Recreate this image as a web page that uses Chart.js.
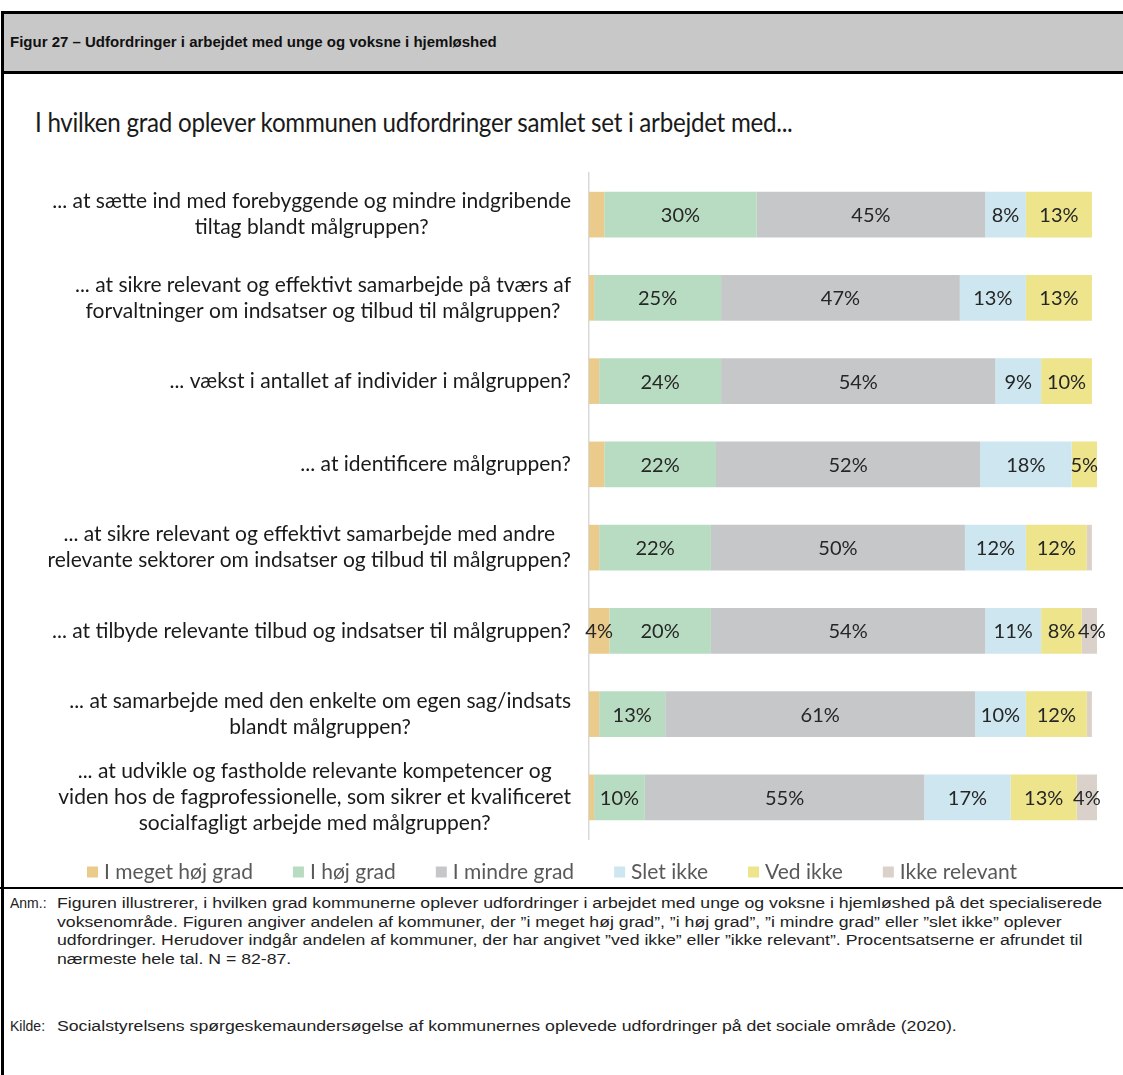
<!DOCTYPE html>
<html lang="da">
<head>
<meta charset="utf-8">
<title>Figur 27</title>
<script src="https://cdn.jsdelivr.net/npm/chart.js@4.4.1/dist/chart.umd.min.js"></script>
<style>
  body { margin: 0; width: 1123px; height: 1075px; background: #fff; overflow: hidden; position: relative; }
  .frame { position: absolute; left: 1px; top: 11px; width: 1140px; height: 1080px; border-left: 3px solid #000; border-top: 3px solid #000; }
  .header { position: absolute; left: 4px; top: 14px; width: 1130px; height: 57px; background: #c8c8c8; border-bottom: 3px solid #000; }
  .header span { position: absolute; left: 6px; top: 19px; font: bold 15px "Liberation Sans", Arial, sans-serif; color: #111; white-space: nowrap; }
  .subtitle { position: absolute; left: 35px; top: 106px; font: 26px Lato, sans-serif; color: #1a1a1a; white-space: nowrap; transform: scaleX(0.93); transform-origin: left center; letter-spacing: -0.3px; }
  #chart { position: absolute; left: 0; top: 150px; }
  .sep { position: absolute; left: 0; top: 887px; width: 1123px; height: 2px; background: #000; }
  .note { position: absolute; font: 15.5px "Liberation Sans", Arial, sans-serif; color: #222; line-height: 18.5px; white-space: nowrap; transform: scaleX(1.14); transform-origin: left top; }
  .lead { position: absolute; font: 14px "Liberation Sans", Arial, sans-serif; color: #222; line-height: 18.5px; white-space: nowrap; }
</style>
</head>
<body>
<div class="frame"></div>
<div class="header"><span>Figur 27 – Udfordringer i arbejdet med unge og voksne i hjemløshed</span></div>
<div class="subtitle">I hvilken grad oplever kommunen udfordringer samlet set i arbejdet med...</div>
<canvas id="chart" width="1123" height="740"></canvas>
<div class="sep"></div>
<div class="lead" style="left:10px; top:894px;">Anm.:</div>
<div class="note" style="left:57px; top:894px;">
Figuren illustrerer, i hvilken grad kommunerne oplever udfordringer i arbejdet med unge og voksne i hjemløshed på det specialiserede<br>
voksenområde. Figuren angiver andelen af kommuner, der ”i meget høj grad”, ”i høj grad”, ”i mindre grad” eller ”slet ikke” oplever<br>
udfordringer. Herudover indgår andelen af kommuner, der har angivet ”ved ikke” eller ”ikke relevant”. Procentsatserne er afrundet til<br>
nærmeste hele tal. N = 82-87.
</div>
<div class="lead" style="left:10px; top:1017px;">Kilde:</div>
<div class="note" style="left:57px; top:1017px;">Socialstyrelsens spørgeskemaundersøgelse af kommunernes oplevede udfordringer på det sociale område (2020).</div>

<script>
const categories = [
    ["... at sætte ind med forebyggende og mindre indgribende", "tiltag blandt målgruppen?"],
    ["... at sikre relevant og effektivt samarbejde på tværs af", "forvaltninger om indsatser og tilbud til målgruppen?"],
    ["... vækst i antallet af individer i målgruppen?"],
    ["... at identificere målgruppen?"],
    ["... at sikre relevant og effektivt samarbejde med andre", "relevante sektorer om indsatser og tilbud til målgruppen?"],
    ["... at tilbyde relevante tilbud og indsatser til målgruppen?"],
    ["... at samarbejde med den enkelte om egen sag/indsats", "blandt målgruppen?"],
    ["... at udvikle og fastholde relevante kompetencer og", "viden hos de fagprofessionelle, som sikrer et kvalificeret", "socialfagligt arbejde med målgruppen?"]
];
const meget_hoej = [3, 1, 2, 3, 2, 4, 2, 1];
const hoej = [30, 25, 24, 22, 22, 20, 13, 10];
const mindre = [45, 47, 54, 52, 50, 54, 61, 55];
const slet_ikke = [8, 13, 9, 18, 12, 11, 10, 17];
const ved_ikke = [13, 13, 10, 5, 12, 8, 12, 13];
const ikke_relevant = [0, 0, 0, 0, 1, 4, 1, 4];
const seriesNames = ["I meget høj grad", "I høj grad", "I mindre grad", "Slet ikke", "Ved ikke", "Ikke relevant"];
const seriesColors = ["#ebcb8c", "#b8dcc2", "#c6c7c9", "#cde6f0", "#ede48c", "#dad2ca"];

const labelFont = "21px Lato, sans-serif";

// percent labels in the middle of each segment
const segmentLabels = {
    id: "segmentLabels",
    afterDatasetsDraw(chart) {
        const ctx = chart.ctx;
        ctx.save();
        ctx.font = "20px Lato, sans-serif";
        ctx.fillStyle = "#262626";
        ctx.textAlign = "center";
        ctx.textBaseline = "middle";
        chart.data.datasets.forEach((ds, i) => {
            chart.getDatasetMeta(i).data.forEach((bar, j) => {
                const v = ds.data[j];
                if (v < 4) return;
                ctx.fillText(v + "%", (bar.x + bar.base) / 2, bar.y + 1);
            });
        });
        ctx.restore();
    }
};

// category text, right-justified block with centered lines
const categoryText = {
    id: "categoryText",
    afterDraw(chart) {
        const ctx = chart.ctx;
        const yScale = chart.scales.y;
        const right = chart.chartArea.left - 18;
        const lineH = 26;
        ctx.save();
        ctx.font = labelFont;
        ctx.fillStyle = "#1a1a1a";
        ctx.textAlign = "center";
        ctx.textBaseline = "middle";
        categories.forEach((lines, i) => {
            const w = Math.max(...lines.map(l => ctx.measureText(l).width));
            const cx = right - w / 2;
            const cy = yScale.getPixelForValue(i);
            lines.forEach((l, k) => {
                ctx.fillText(l, cx, cy + (k - (lines.length - 1) / 2) * lineH);
            });
        });
        ctx.restore();
    }
};

// legend row under the plot
const legendRow = {
    id: "legendRow",
    afterDraw(chart) {
        const ctx = chart.ctx;
        const box = 11, gapText = 6, gapItem = 40;
        ctx.save();
        ctx.font = "21px Lato, sans-serif";
        const widths = chart.data.datasets.map(ds => box + gapText + ctx.measureText(ds.label).width);
        const total = widths.reduce((a, b) => a + b, 0) + gapItem * (widths.length - 1);
        let x = 552 - total / 2;
        const y = chart.chartArea.bottom + 33;
        ctx.textBaseline = "middle";
        chart.data.datasets.forEach((ds, i) => {
            ctx.fillStyle = ds.backgroundColor;
            ctx.fillRect(x, y - box / 2, box, box);
            ctx.fillStyle = "#595959";
            ctx.fillText(ds.label, x + box + gapText, y);
            x += widths[i] + gapItem;
        });
        ctx.restore();
    }
};

const allSeries = [meget_hoej, hoej, mindre, slet_ikke, ved_ikke, ikke_relevant];

const ctx = document.getElementById("chart").getContext("2d");
const chart = new Chart(ctx, {
    type: "bar",
    data: {
        labels: categories,
        datasets: allSeries.map((d, i) => ({
            label: seriesNames[i],
            data: d,
            backgroundColor: seriesColors[i],
            borderWidth: 0,
            barPercentage: 0.548,
            categoryPercentage: 1
        }))
    },
    options: {
        indexAxis: "y",
        responsive: false,
        animation: false,
        layout: { padding: { left: 0, right: 26, top: 23, bottom: 51 } },
        plugins: {
            legend: { display: false },
            tooltip: { enabled: false }
        },
        scales: {
            x: {
                stacked: true,
                min: 0,
                max: 100,
                display: false
            },
            y: {
                stacked: true,
                grid: { display: false, drawTicks: false },
                border: { display: true, color: "#d9d9d9", width: 1.5 },
                ticks: { display: false },
                afterFit(scale) { scale.width = 589; }
            }
        }
    },
    plugins: [segmentLabels, categoryText, legendRow]
});
</script>
</body>
</html>
